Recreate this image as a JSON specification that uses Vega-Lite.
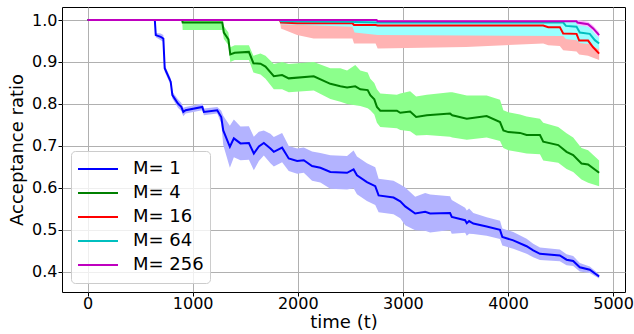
{
  "$schema": "https://vega.github.io/schema/vega-lite/v6.json",
  "width": 563,
  "height": 285,
  "autosize": {"type": "none"},
  "padding": {"left": 62, "top": 7, "right": 9, "bottom": 42},
  "background": "white",
  "config": {
    "font": "DejaVu Sans",
    "view": {"stroke": "black", "strokeWidth": 1},
    "axis": {
      "gridColor": "#b0b0b0", "gridWidth": 1, "gridOpacity": 1,
      "domain": false, "tickColor": "black", "tickSize": 4,
      "labelColor": "black", "titleColor": "black",
      "labelFontSize": 16, "titleFontSize": 18, "titleFontWeight": "normal"
    }
  },
  "data": {"values": [
    {"M":1,"t":0,"v":1,"lo":1,"hi":1},
    {"M":1,"t":640,"v":1,"lo":1,"hi":1},
    {"M":1,"t":649,"v":0.964,"lo":0.959,"hi":0.969},
    {"M":1,"t":696,"v":0.960,"lo":0.952,"hi":0.968},
    {"M":1,"t":721,"v":0.956,"lo":0.948,"hi":0.964},
    {"M":1,"t":734,"v":0.885,"lo":0.877,"hi":0.893},
    {"M":1,"t":791,"v":0.853,"lo":0.845,"hi":0.861},
    {"M":1,"t":807,"v":0.821,"lo":0.813,"hi":0.829},
    {"M":1,"t":860,"v":0.801,"lo":0.791,"hi":0.811},
    {"M":1,"t":892,"v":0.793,"lo":0.783,"hi":0.803},
    {"M":1,"t":911,"v":0.781,"lo":0.771,"hi":0.791},
    {"M":1,"t":933,"v":0.785,"lo":0.777,"hi":0.793},
    {"M":1,"t":1092,"v":0.793,"lo":0.785,"hi":0.801},
    {"M":1,"t":1107,"v":0.781,"lo":0.773,"hi":0.789},
    {"M":1,"t":1234,"v":0.785,"lo":0.777,"hi":0.793},
    {"M":1,"t":1272,"v":0.769,"lo":0.754,"hi":0.784},
    {"M":1,"t":1291,"v":0.737,"lo":0.702,"hi":0.772},
    {"M":1,"t":1354,"v":0.698,"lo":0.648,"hi":0.748},
    {"M":1,"t":1392,"v":0.718,"lo":0.673,"hi":0.763},
    {"M":1,"t":1455,"v":0.706,"lo":0.666,"hi":0.746},
    {"M":1,"t":1535,"v":0.707,"lo":0.667,"hi":0.747},
    {"M":1,"t":1582,"v":0.682,"lo":0.642,"hi":0.722},
    {"M":1,"t":1630,"v":0.699,"lo":0.664,"hi":0.734},
    {"M":1,"t":1677,"v":0.707,"lo":0.677,"hi":0.737},
    {"M":1,"t":1740,"v":0.694,"lo":0.659,"hi":0.729},
    {"M":1,"t":1772,"v":0.686,"lo":0.651,"hi":0.721},
    {"M":1,"t":1851,"v":0.696,"lo":0.661,"hi":0.731},
    {"M":1,"t":1914,"v":0.670,"lo":0.640,"hi":0.700},
    {"M":1,"t":1994,"v":0.664,"lo":0.634,"hi":0.694},
    {"M":1,"t":2057,"v":0.666,"lo":0.636,"hi":0.696},
    {"M":1,"t":2136,"v":0.652,"lo":0.617,"hi":0.687},
    {"M":1,"t":2215,"v":0.648,"lo":0.613,"hi":0.683},
    {"M":1,"t":2310,"v":0.638,"lo":0.598,"hi":0.678},
    {"M":1,"t":2469,"v":0.636,"lo":0.596,"hi":0.676},
    {"M":1,"t":2531,"v":0.644,"lo":0.599,"hi":0.689},
    {"M":1,"t":2563,"v":0.630,"lo":0.585,"hi":0.675},
    {"M":1,"t":2658,"v":0.614,"lo":0.569,"hi":0.659},
    {"M":1,"t":2737,"v":0.604,"lo":0.559,"hi":0.649},
    {"M":1,"t":2769,"v":0.582,"lo":0.542,"hi":0.622},
    {"M":1,"t":2911,"v":0.577,"lo":0.537,"hi":0.617},
    {"M":1,"t":2975,"v":0.568,"lo":0.528,"hi":0.608},
    {"M":1,"t":3022,"v":0.556,"lo":0.511,"hi":0.601},
    {"M":1,"t":3117,"v":0.539,"lo":0.499,"hi":0.579},
    {"M":1,"t":3212,"v":0.543,"lo":0.498,"hi":0.588},
    {"M":1,"t":3259,"v":0.539,"lo":0.494,"hi":0.584},
    {"M":1,"t":3449,"v":0.540,"lo":0.500,"hi":0.580},
    {"M":1,"t":3465,"v":0.531,"lo":0.491,"hi":0.571},
    {"M":1,"t":3592,"v":0.523,"lo":0.493,"hi":0.553},
    {"M":1,"t":3608,"v":0.516,"lo":0.486,"hi":0.546},
    {"M":1,"t":3630,"v":0.521,"lo":0.491,"hi":0.551},
    {"M":1,"t":3670,"v":0.515,"lo":0.490,"hi":0.540},
    {"M":1,"t":3797,"v":0.508,"lo":0.486,"hi":0.530},
    {"M":1,"t":3924,"v":0.500,"lo":0.478,"hi":0.522},
    {"M":1,"t":3946,"v":0.483,"lo":0.463,"hi":0.503},
    {"M":1,"t":4050,"v":0.475,"lo":0.455,"hi":0.495},
    {"M":1,"t":4177,"v":0.461,"lo":0.443,"hi":0.479},
    {"M":1,"t":4240,"v":0.451,"lo":0.435,"hi":0.467},
    {"M":1,"t":4304,"v":0.443,"lo":0.428,"hi":0.458},
    {"M":1,"t":4493,"v":0.439,"lo":0.425,"hi":0.453},
    {"M":1,"t":4557,"v":0.429,"lo":0.416,"hi":0.442},
    {"M":1,"t":4620,"v":0.426,"lo":0.414,"hi":0.438},
    {"M":1,"t":4683,"v":0.411,"lo":0.401,"hi":0.421},
    {"M":1,"t":4778,"v":0.405,"lo":0.397,"hi":0.413},
    {"M":1,"t":4867,"v":0.389,"lo":0.384,"hi":0.394},

    {"M":4,"t":0,"v":1,"lo":1,"hi":1},
    {"M":4,"t":900,"v":1,"lo":1,"hi":1},
    {"M":4,"t":905,"v":0.994,"lo":0.976,"hi":1.0},
    {"M":4,"t":1282,"v":0.994,"lo":0.976,"hi":1.0},
    {"M":4,"t":1297,"v":0.970,"lo":0.955,"hi":0.985},
    {"M":4,"t":1340,"v":0.954,"lo":0.940,"hi":0.970},
    {"M":4,"t":1358,"v":0.918,"lo":0.900,"hi":0.935},
    {"M":4,"t":1400,"v":0.922,"lo":0.905,"hi":0.940},
    {"M":4,"t":1535,"v":0.924,"lo":0.905,"hi":0.940},
    {"M":4,"t":1578,"v":0.897,"lo":0.875,"hi":0.915},
    {"M":4,"t":1645,"v":0.896,"lo":0.870,"hi":0.920},
    {"M":4,"t":1693,"v":0.889,"lo":0.860,"hi":0.915},
    {"M":4,"t":1772,"v":0.866,"lo":0.835,"hi":0.895},
    {"M":4,"t":1851,"v":0.869,"lo":0.835,"hi":0.900},
    {"M":4,"t":1914,"v":0.861,"lo":0.828,"hi":0.895},
    {"M":4,"t":2152,"v":0.866,"lo":0.832,"hi":0.900},
    {"M":4,"t":2310,"v":0.848,"lo":0.812,"hi":0.885},
    {"M":4,"t":2405,"v":0.842,"lo":0.805,"hi":0.885},
    {"M":4,"t":2469,"v":0.839,"lo":0.800,"hi":0.880},
    {"M":4,"t":2547,"v":0.842,"lo":0.797,"hi":0.893},
    {"M":4,"t":2595,"v":0.835,"lo":0.795,"hi":0.880},
    {"M":4,"t":2665,"v":0.833,"lo":0.790,"hi":0.875},
    {"M":4,"t":2690,"v":0.821,"lo":0.785,"hi":0.860},
    {"M":4,"t":2728,"v":0.811,"lo":0.775,"hi":0.850},
    {"M":4,"t":2753,"v":0.793,"lo":0.755,"hi":0.835},
    {"M":4,"t":2785,"v":0.784,"lo":0.745,"hi":0.825},
    {"M":4,"t":2943,"v":0.784,"lo":0.742,"hi":0.822},
    {"M":4,"t":2975,"v":0.779,"lo":0.738,"hi":0.825},
    {"M":4,"t":3069,"v":0.782,"lo":0.735,"hi":0.830},
    {"M":4,"t":3126,"v":0.769,"lo":0.725,"hi":0.818},
    {"M":4,"t":3228,"v":0.773,"lo":0.726,"hi":0.822},
    {"M":4,"t":3449,"v":0.777,"lo":0.722,"hi":0.828},
    {"M":4,"t":3470,"v":0.773,"lo":0.720,"hi":0.828},
    {"M":4,"t":3608,"v":0.765,"lo":0.715,"hi":0.820},
    {"M":4,"t":3797,"v":0.771,"lo":0.720,"hi":0.820},
    {"M":4,"t":3924,"v":0.757,"lo":0.712,"hi":0.810},
    {"M":4,"t":3956,"v":0.737,"lo":0.695,"hi":0.785},
    {"M":4,"t":4003,"v":0.733,"lo":0.690,"hi":0.780},
    {"M":4,"t":4114,"v":0.731,"lo":0.685,"hi":0.775},
    {"M":4,"t":4177,"v":0.726,"lo":0.682,"hi":0.770},
    {"M":4,"t":4304,"v":0.726,"lo":0.680,"hi":0.765},
    {"M":4,"t":4335,"v":0.710,"lo":0.665,"hi":0.755},
    {"M":4,"t":4478,"v":0.702,"lo":0.660,"hi":0.745},
    {"M":4,"t":4557,"v":0.686,"lo":0.645,"hi":0.730},
    {"M":4,"t":4620,"v":0.678,"lo":0.638,"hi":0.720},
    {"M":4,"t":4699,"v":0.658,"lo":0.620,"hi":0.695},
    {"M":4,"t":4762,"v":0.656,"lo":0.612,"hi":0.690},
    {"M":4,"t":4867,"v":0.636,"lo":0.604,"hi":0.665},

    {"M":16,"t":0,"v":1,"lo":1,"hi":1},
    {"M":16,"t":1830,"v":1,"lo":1,"hi":1},
    {"M":16,"t":1840,"v":0.994,"lo":0.980,"hi":1.0},
    {"M":16,"t":1994,"v":0.992,"lo":0.964,"hi":1.0},
    {"M":16,"t":2150,"v":0.992,"lo":0.956,"hi":1.0},
    {"M":16,"t":2520,"v":0.992,"lo":0.956,"hi":1.0},
    {"M":16,"t":2535,"v":0.988,"lo":0.944,"hi":1.0},
    {"M":16,"t":2740,"v":0.988,"lo":0.944,"hi":1.0},
    {"M":16,"t":2760,"v":0.987,"lo":0.932,"hi":1.0},
    {"M":16,"t":3600,"v":0.987,"lo":0.936,"hi":1.0},
    {"M":16,"t":4335,"v":0.987,"lo":0.944,"hi":1.0},
    {"M":16,"t":4383,"v":0.983,"lo":0.940,"hi":1.0},
    {"M":16,"t":4493,"v":0.983,"lo":0.938,"hi":1.0},
    {"M":16,"t":4525,"v":0.968,"lo":0.928,"hi":0.995},
    {"M":16,"t":4652,"v":0.967,"lo":0.925,"hi":0.99},
    {"M":16,"t":4677,"v":0.951,"lo":0.918,"hi":0.982},
    {"M":16,"t":4762,"v":0.951,"lo":0.915,"hi":0.978},
    {"M":16,"t":4810,"v":0.935,"lo":0.910,"hi":0.955},
    {"M":16,"t":4867,"v":0.920,"lo":0.905,"hi":0.935},

    {"M":64,"t":0,"v":1,"lo":1,"hi":1},
    {"M":64,"t":1830,"v":1,"lo":1,"hi":1},
    {"M":64,"t":1840,"v":0.997,"lo":0.990,"hi":1.0},
    {"M":64,"t":2520,"v":0.996,"lo":0.984,"hi":1.0},
    {"M":64,"t":2540,"v":0.995,"lo":0.970,"hi":1.0},
    {"M":64,"t":2760,"v":0.994,"lo":0.964,"hi":1.0},
    {"M":64,"t":4525,"v":0.994,"lo":0.962,"hi":1.0},
    {"M":64,"t":4551,"v":0.986,"lo":0.955,"hi":1.0},
    {"M":64,"t":4652,"v":0.984,"lo":0.952,"hi":0.998},
    {"M":64,"t":4683,"v":0.970,"lo":0.945,"hi":0.988},
    {"M":64,"t":4778,"v":0.967,"lo":0.942,"hi":0.984},
    {"M":64,"t":4826,"v":0.952,"lo":0.935,"hi":0.968},
    {"M":64,"t":4867,"v":0.944,"lo":0.930,"hi":0.958},

    {"M":256,"t":0,"v":1,"lo":1,"hi":1},
    {"M":256,"t":2750,"v":1,"lo":1,"hi":1},
    {"M":256,"t":2760,"v":0.997,"lo":0.995,"hi":1.0},
    {"M":256,"t":4652,"v":0.997,"lo":0.995,"hi":1.0},
    {"M":256,"t":4660,"v":0.994,"lo":0.988,"hi":1.0},
    {"M":256,"t":4762,"v":0.990,"lo":0.984,"hi":0.996},
    {"M":256,"t":4810,"v":0.980,"lo":0.974,"hi":0.987},
    {"M":256,"t":4867,"v":0.964,"lo":0.958,"hi":0.971}
  ]},
  "encoding": {
    "x": {"field": "t", "type": "quantitative",
      "scale": {"domain": [-243, 5113], "nice": false, "zero": false},
      "axis": {"title": "time (t)", "values": [0,1000,2000,3000,4000,5000], "format": "d", "labelPadding": -1, "titlePadding": 2}},
    "y": {"type": "quantitative",
      "scale": {"domain": [0.352, 1.031], "nice": false, "zero": false},
      "axis": {"title": "Acceptance ratio", "values": [0.4,0.5,0.6,0.7,0.8,0.9,1.0], "format": ".1f", "labelPadding": 1, "titlePadding": 5}}
  },
  "layer": [
    {
      "mark": {"type": "area", "opacity": 1},
      "encoding": {
        "y": {"field": "lo", "type": "quantitative"},
        "y2": {"field": "hi"},
        "fill": {"field": "M", "type": "nominal",
          "scale": {"range": ["#b3b3ff","#8cff8c","#ffb3b3","#99ffff","#ffb3ff"]},
          "legend": null}
      }
    },
    {
      "mark": {"type": "line", "strokeWidth": 2},
      "encoding": {
        "y": {"field": "v", "type": "quantitative"},
        "stroke": {"field": "M", "type": "nominal",
          "scale": {"domain": [1,4,16,64,256], "range": ["#0000ff","#008000","#ff0000","#00bfbf","#bf00bf"]},
          "legend": {
            "title": null, "orient": "bottom-left", "offset": 9,
            "labelExpr": "'M= ' + datum.label",
            "labelFontSize": 18, "labelColor": "black", "labelOffset": 14,
            "symbolType": "stroke", "symbolSize": 1600, "symbolStrokeWidth": 2,
            "clipHeight": 24,
            "padding": 6, "rowPadding": 0,
            "fillColor": "rgba(255,255,255,0.8)", "strokeColor": "#cccccc", "cornerRadius": 4
          }}
      }
    }
  ]
}
